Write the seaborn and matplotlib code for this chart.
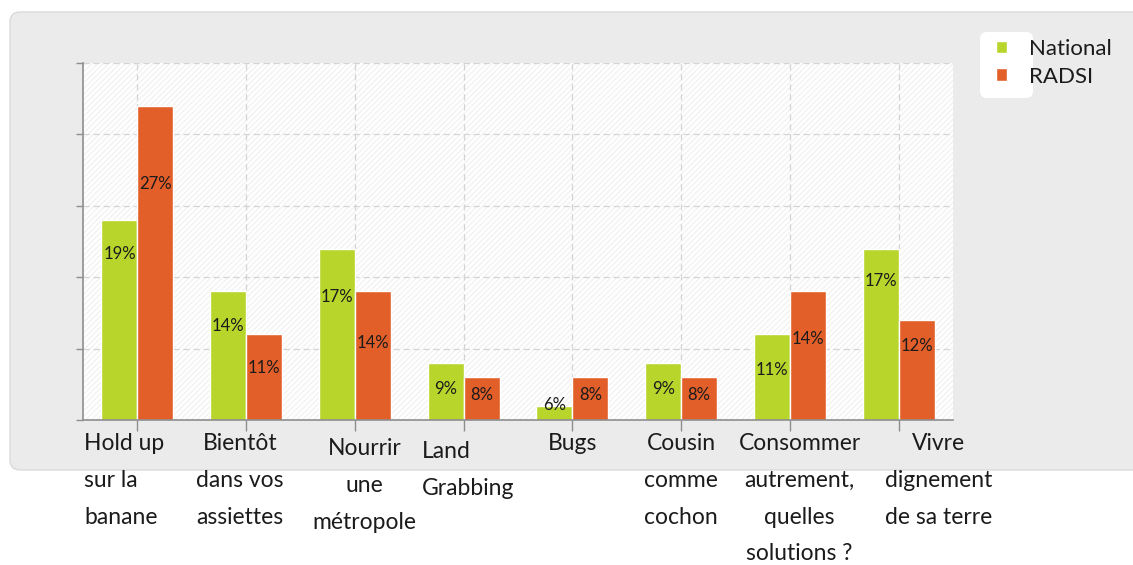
import matplotlib
matplotlib.use("Agg")
import matplotlib.pyplot as plt
import matplotlib.transforms as mtransforms
from matplotlib.patches import FancyBboxPatch, Rectangle
import seaborn as sns
import pandas as pd

# ---------------- data ----------------
categories = ["Hold up\nsur la\nbanane", "Bientôt\ndans vos\nassiettes", "Nourrir\nune\nmétropole",
              "Land\nGrabbing", "Bugs", "Cousin\ncomme\ncochon",
              "Consommer\nautrement,\nquelles\nsolutions ?", "Vivre\ndignement\nde sa terre"]
national = [19, 14, 17, 9, 6, 9, 11, 17]
radsi = [27, 11, 14, 8, 8, 8, 14, 12]
series_names = ["National", "RADSI"]

# ---------------- style ----------------
GREEN = "#B8D52C"
ORANGE = "#E35F2A"
GRID = "#D4D4D4"
AXC = "#8E8E8E"
TXT = "#1B1B1B"
FONT = "Lato"
# relative vertical placement of value labels inside bars (style only)
lab_frac = {"National": [0.83, 0.73, 0.72, 0.54, 1.05, 0.54, 0.58, 0.81],
            "RADSI": [0.75, 0.61, 0.60, 0.58, 0.58, 0.58, 0.63, 0.74]}
# category label placement tweaks (style only): x offset, ha, extra y offset (px)
cat_style = [(-0.49, "left", 0), (-0.055, "center", 0), (0.09, "center", 5), (-0.38, "left", 8),
             (0.0, "center", 0), (0.0, "center", 0), (0.09, "center", 0), (0.37, "center", 0)]

df = pd.DataFrame({
    "cat": categories * 2,
    "val": national + radsi,
    "serie": [series_names[0]] * len(categories) + [series_names[1]] * len(categories),
})

sns.set_theme(style="white")
plt.rcParams["font.family"] = [FONT, "DejaVu Sans"]

W, H = 1133, 565
fig = plt.figure(figsize=(W / 100, H / 100), dpi=100)
fig.patch.set_facecolor("white")

# background axes holding the grey rounded panel
bg = fig.add_axes([0, 0, 1, 1], zorder=-5)
bg.set_axis_off()
bg.set_xlim(0, W)
bg.set_ylim(H, 0)
bg.add_patch(FancyBboxPatch((10, 12), 1200, 458,
                            boxstyle="round,pad=0,rounding_size=10",
                            facecolor="#EBEBEB", edgecolor="#DADADA", linewidth=1.0))
# legend box
bg.add_patch(FancyBboxPatch((980, 32), 53, 66,
                            boxstyle="round,pad=0,rounding_size=7",
                            facecolor="white", edgecolor="none"))

ax = fig.add_axes([83 / W, (H - 420) / H, (953 - 83) / W, (420 - 63) / H], zorder=1)
ax.set_facecolor("white")
ax.add_patch(Rectangle((0, 0), 1, 1, transform=ax.transAxes, facecolor="none",
                       hatch="//////", edgecolor="#F2F2F2", linewidth=0, zorder=0))

sns.barplot(data=df, x="cat", y="val", hue="serie", palette=[GREEN, ORANGE],
            width=0.66, gap=0, saturation=1, ax=ax, legend=True, zorder=2)

ax.set_ylim(5, 30)
ax.set_xlim(-0.5, len(categories) - 0.5)
ax.set_yticks([5, 10, 15, 20, 25, 30])
ax.set_yticklabels([])
ax.set_xticks(range(len(categories)))
ax.set_xticklabels([])
ax.set_xlabel("")
ax.set_ylabel("")

ax.grid(True, axis="both", color=GRID, linestyle=(0, (5, 3)), linewidth=0.9, zorder=1)
ax.set_axisbelow(True)
for s in ["top", "right"]:
    ax.spines[s].set_visible(False)
for s in ["left", "bottom"]:
    ax.spines[s].set_color(AXC)
    ax.spines[s].set_linewidth(1.2)
ax.tick_params(axis="y", which="both", left=True, length=5, width=1.0, color=AXC, direction="out")
ax.tick_params(axis="x", which="both", bottom=True, length=8, width=1.0, color=AXC, direction="out")

# value labels inside bars
for cont, name in zip(ax.containers, series_names):
    for patch, frac in zip(cont.patches, lab_frac[name]):
        h = patch.get_height()
        xc = patch.get_x() + patch.get_width() / 2
        y = 5 + frac * (h - 5)
        ax.text(xc, y, f"{int(round(h))}%", ha="center", va="center",
                fontsize=12, color=TXT, zorder=5)

# category labels
trans = mtransforms.blended_transform_factory(ax.transData, ax.transAxes)
for i, (lab, (dx, ha, dy)) in enumerate(zip(categories, cat_style)):
    y = -(13 + dy) / (420 - 63)
    ax.text(i + dx, y, lab, transform=trans, ha=ha, va="top",
            multialignment="center" if ha == "center" else "left",
            fontsize=16.5, color=TXT, linespacing=1.93, clip_on=False)

handles, labels = ax.get_legend_handles_labels()
ax.get_legend().remove()
leg = fig.legend(handles, labels, loc="upper left", bbox_to_anchor=(987 / W, (H - 30) / H),
                 frameon=False, fontsize=16, handlelength=0.5, handleheight=0.5,
                 handletextpad=1.0, labelspacing=0.35, borderaxespad=0)
for t in leg.get_texts():
    t.set_color(TXT)

fig.savefig("out.png", dpi=100, facecolor=fig.get_facecolor())
